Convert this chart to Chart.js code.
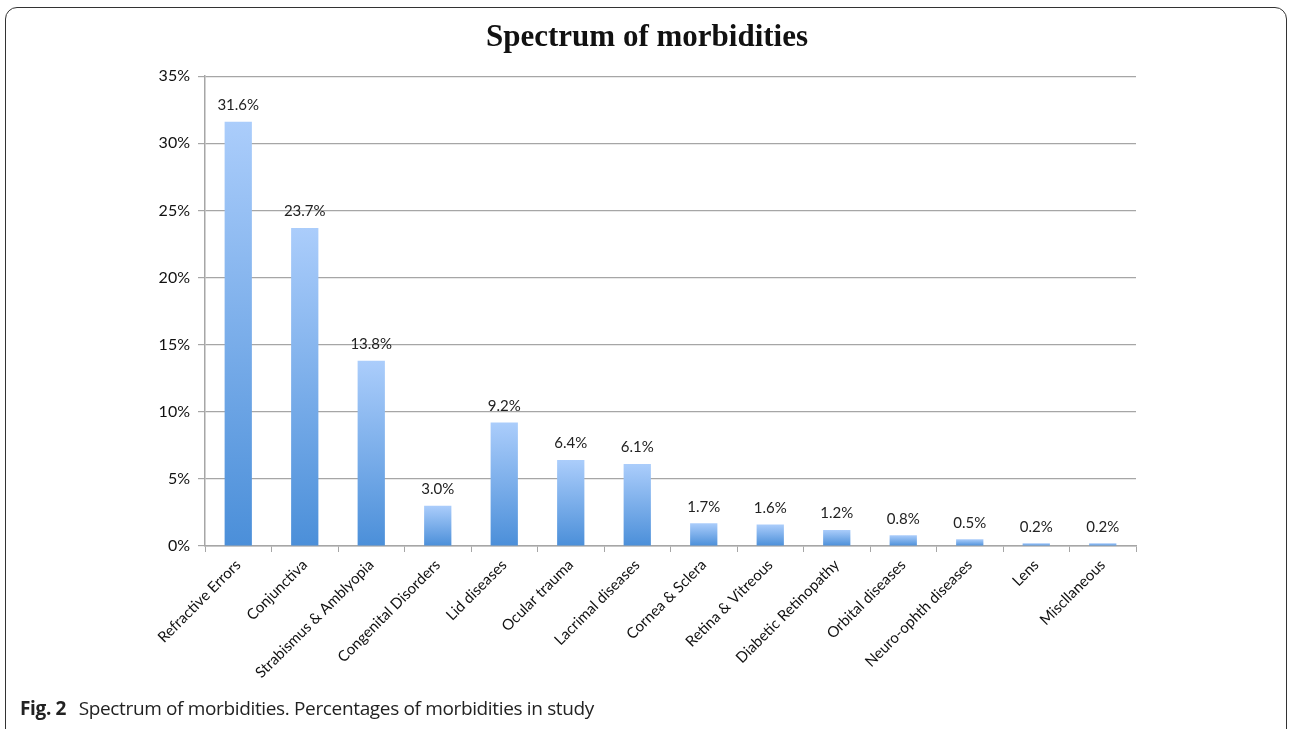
<!DOCTYPE html>
<html lang="en">
<head>
    <meta charset="UTF-8">
    <title>Spectrum of morbidities</title>
    <style>
        body {
            margin: 0;
            padding: 0;
            background-color: #fff;
            width: 1290px;
            height: 729px;
            overflow: hidden;
            position: relative;
        }
        .frame {
            position: absolute;
            left: 5px;
            top: 7px;
            width: 1280px;
            height: 740px;
            border: 1.5px solid #333;
            border-radius: 12px;
        }
        .chart-container {
            position: absolute;
            left: 0;
            top: 0;
            width: 1290px;
            height: 729px;
        }
        .caption {
            position: absolute;
            left: 20px;
            top: 695px;
            font-family: "Open Sans", sans-serif;
            font-size: 19px;
            color: #222;
            letter-spacing: -0.35px;
        }
        .caption b {
            margin-right: 8px;
        }
    </style>
</head>
<body>

<div class="frame"></div>

<div class="chart-container">
    <canvas id="morbidityChart"></canvas>
</div>

<div class="caption"><b>Fig. 2</b> Spectrum of morbidities. Percentages of morbidities in study</div>

<script src="https://cdn.jsdelivr.net/npm/chart.js"></script>

<script>
    const categories = [
        'Refractive Errors', 'Conjunctiva', 'Strabismus & Amblyopia', 'Congenital Disorders',
        'Lid diseases', 'Ocular trauma', 'Lacrimal diseases', 'Cornea & Sclera',
        'Retina & Vitreous', 'Diabetic Retinopathy', 'Orbital diseases', 'Neuro-ophth diseases',
        'Lens', 'Miscllaneous'
    ];
    const percentages = [31.6, 23.7, 13.8, 3.0, 9.2, 6.4, 6.1, 1.7, 1.6, 1.2, 0.8, 0.5, 0.2, 0.2];
    const yTicks = [0, 5, 10, 15, 20, 25, 30, 35];

    // gradient per bar, light on top, darker at the base
    function barGradient(c) {
        const chart = c.chart;
        const y = chart.scales.y;
        if (!y || c.raw == null) return '#7db0ec';
        const top = y.getPixelForValue(c.raw);
        const bottom = y.getPixelForValue(0);
        if (!isFinite(top) || !isFinite(bottom) || top === bottom) return '#7db0ec';
        const g = chart.ctx.createLinearGradient(0, top, 0, bottom);
        g.addColorStop(0, '#abcdfb');
        g.addColorStop(1, '#4b8fd9');
        return g;
    }

    // value labels above each bar
    const valueLabels = {
        id: 'valueLabels',
        afterDatasetsDraw(chart) {
            const ctx = chart.ctx;
            const meta = chart.getDatasetMeta(0);
            ctx.save();
            ctx.font = '15px Lato, sans-serif';
            ctx.fillStyle = '#222';
            ctx.textAlign = 'center';
            ctx.textBaseline = 'bottom';
            meta.data.forEach((bar, i) => {
                ctx.fillText(percentages[i].toFixed(1) + '%', bar.x, bar.y - 9);
            });
            ctx.restore();
        }
    };

    const ctx = document.getElementById('morbidityChart').getContext('2d');
    const morbidityChart = new Chart(ctx, {
        type: 'bar',
        data: {
            labels: categories,
            datasets: [{
                label: 'Percentage',
                data: percentages,
                backgroundColor: barGradient,
                borderWidth: 0,
                barPercentage: 0.41,
                categoryPercentage: 1.0
            }]
        },
        plugins: [valueLabels],
        options: {
            responsive: true,
            maintainAspectRatio: false,
            animation: false,
            layout: {
                padding: { left: 158, right: 154, top: 0, bottom: 0 }
            },
            plugins: {
                legend: { display: false },
                tooltip: { enabled: false },
                title: {
                    display: true,
                    text: 'Spectrum of morbidities',
                    color: '#111',
                    font: { family: '"Liberation Serif", serif', size: 31, weight: 'bold' },
                    padding: { top: 19, bottom: 20 }
                }
            },
            scales: {
                x: {
                    offset: true,
                    grid: {
                        offset: true,
                        drawOnChartArea: false,
                        drawTicks: true,
                        tickLength: 6,
                        color: '#a6a6a6'
                    },
                    border: { color: '#a6a6a6', width: 1.5 },
                    ticks: {
                        minRotation: 45,
                        maxRotation: 45,
                        autoSkip: false,
                        padding: 4,
                        color: '#111',
                        font: { family: 'Lato, sans-serif', size: 15 }
                    },
                    afterFit(scale) {
                        scale.height = 183;
                    }
                },
                y: {
                    min: 0,
                    max: 35,
                    afterBuildTicks(scale) {
                        scale.ticks = yTicks.map(v => ({ value: v }));
                    },
                    grid: {
                        color: '#a6a6a6',
                        lineWidth: 1.2,
                        tickLength: 7
                    },
                    border: { color: '#a6a6a6', width: 1.5 },
                    ticks: {
                        padding: 8,
                        color: '#111',
                        font: { family: 'Lato, sans-serif', size: 16 },
                        callback: v => v + '%'
                    },
                    afterFit(scale) {
                        scale.width = 47;
                    }
                }
            }
        }
    });
</script>

</body>
</html>
